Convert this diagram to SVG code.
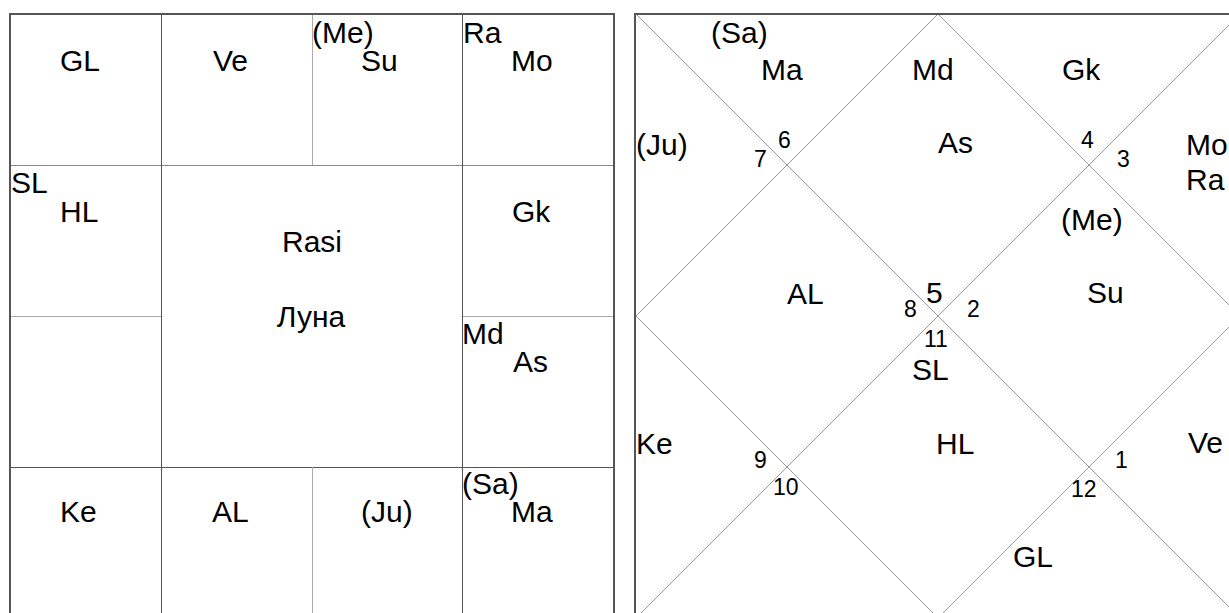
<svg xmlns="http://www.w3.org/2000/svg" width="1229" height="613" viewBox="0 0 1229 613">
<style>
  text { font-family: "Liberation Sans", Arial, sans-serif; fill: #000; }
  .p { font-size: 30px; }
  .n { font-size: 23px; }
  .c { text-anchor: middle; }
  .bd { stroke: #555; stroke-width: 2; fill: none; }
  .dk { stroke: #555; stroke-width: 1; fill: none; }
  .md { stroke: #888; stroke-width: 1; fill: none; }
  .lt { stroke: #aaa; stroke-width: 1; fill: none; }
  .dg { stroke: #999; stroke-width: 1; fill: none; }
</style>
<rect x="0" y="0" width="1229" height="613" fill="#fff"/>
<g id="connectors">
  <line class="md" x1="10" y1="165.5" x2="161" y2="165.5"/>
  <line class="md" x1="161" y1="165.5" x2="614" y2="165.5"/>
  <line class="lt" x1="10" y1="316.5" x2="161" y2="316.5"/>
  <line class="lt" x1="462" y1="316.5" x2="614" y2="316.5"/>
  <line class="dk" x1="10" y1="467.5" x2="614" y2="467.5"/>
  <line class="dk" x1="161.5" y1="14" x2="161.5" y2="613"/>
  <line class="dk" x1="462.5" y1="14" x2="462.5" y2="613"/>
  <line class="lt" x1="312.5" y1="14" x2="312.5" y2="165"/>
  <line class="lt" x1="312.5" y1="467" x2="312.5" y2="613"/>
  <line class="bd" x1="9" y1="14" x2="615" y2="14"/>
  <line class="bd" x1="10" y1="13" x2="10" y2="613"/>
  <line class="bd" x1="614" y1="13" x2="614" y2="613"/>
  <line class="dg" x1="636" y1="14" x2="1240" y2="618"/>
  <line class="dg" x1="1240" y1="14" x2="636" y2="618"/>
  <polygon class="dg" points="938,14 1240,316 938,618 636,316"/>
  <line class="bd" x1="634" y1="14" x2="1229" y2="14"/>
  <line class="bd" x1="635" y1="13" x2="635" y2="613"/>
</g>
<g id="rasi-chart">
  <g id="r-h1"><text class="p" x="60" y="71">GL</text></g>
  <g id="r-h2"><text class="p" x="213" y="71">Ve</text></g>
  <g id="r-h3"><text class="p" x="312" y="43">(Me)</text><text class="p" x="361" y="71">Su</text></g>
  <g id="r-h4"><text class="p" x="463" y="43">Ra</text><text class="p" x="511" y="71">Mo</text></g>
  <g id="r-h12"><text class="p" x="11" y="193">SL</text><text class="p" x="60" y="222">HL</text></g>
  <g id="r-h5"><text class="p" x="512" y="222">Gk</text></g>
  <g id="r-h11"></g>
  <g id="r-h6"><text class="p" x="462" y="344">Md</text><text class="p" x="513" y="372">As</text></g>
  <g id="r-h10"><text class="p" x="60" y="522">Ke</text></g>
  <g id="r-h9"><text class="p" x="212" y="522">AL</text></g>
  <g id="r-h8"><text class="p" x="361" y="522">(Ju)</text></g>
  <g id="r-h7"><text class="p" x="462" y="494">(Sa)</text><text class="p" x="511" y="522">Ma</text></g>
  <g id="r-center"><text class="p c" x="312" y="252">Rasi</text><text class="p c" x="311" y="327">Луна</text></g>
</g>
<g id="bhava-chart">
  <g id="b-h1"><text class="p" x="938" y="153">As</text><text class="p" x="926" y="303">5</text></g>
  <g id="b-h2"><text class="p" x="912" y="80">Md</text><text class="n" x="778" y="148">6</text></g>
  <g id="b-h3"><text class="p" x="711" y="43">(Sa)</text><text class="p" x="761" y="80">Ma</text></g>
  <g id="b-h4"><text class="p" x="636" y="155">(Ju)</text><text class="n" x="754" y="167">7</text></g>
  <g id="b-h5"><text class="p" x="787" y="304">AL</text><text class="n" x="904" y="317">8</text></g>
  <g id="b-h6"><text class="p" x="636" y="454">Ke</text><text class="n" x="754" y="468">9</text></g>
  <g id="b-h7"><text class="n" x="773" y="495">10</text></g>
  <g id="b-h8"><text class="p" x="936" y="454">HL</text><text class="p" x="912" y="380">SL</text><text class="n" x="924" y="347">11</text></g>
  <g id="b-h9"><text class="p" x="1013" y="567">GL</text><text class="n" x="1071" y="497">12</text></g>
  <g id="b-h10"><text class="p" x="1188" y="453">Ve</text><text class="n" x="1115" y="468">1</text></g>
  <g id="b-h11"><text class="p" x="1061" y="230">(Me)</text><text class="p" x="1087" y="303">Su</text><text class="n" x="967" y="317">2</text></g>
  <g id="b-h12"><text class="p" x="1186" y="155">Mo</text><text class="p" x="1186" y="190">Ra</text><text class="n" x="1117" y="167">3</text></g>
  <g id="b-h13"><text class="p" x="1062" y="80">Gk</text><text class="n" x="1081" y="148">4</text></g>
</g>
</svg>
